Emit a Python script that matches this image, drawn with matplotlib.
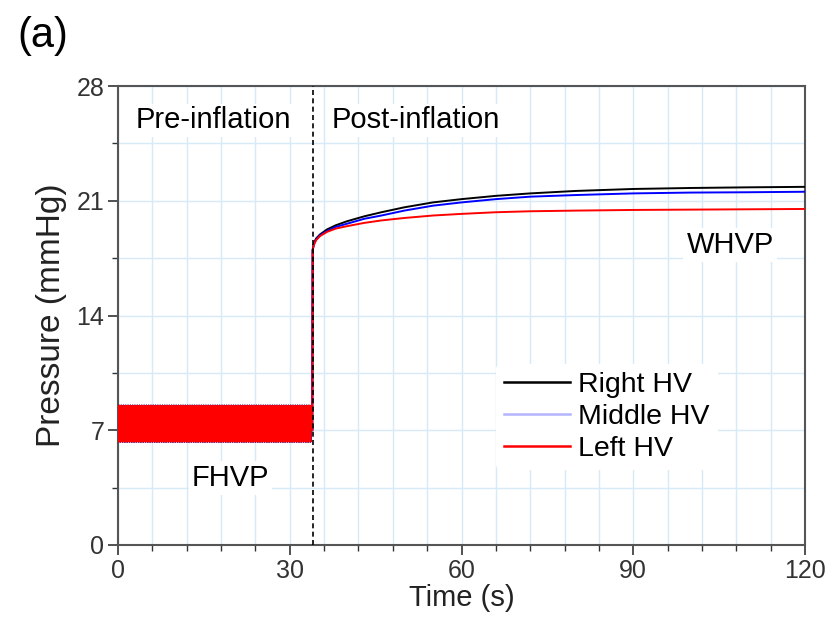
import numpy as np
import matplotlib
matplotlib.use("Agg")
import matplotlib.pyplot as plt
from matplotlib.ticker import MultipleLocator

plt.rcParams['font.family'] = ['Liberation Sans', 'DejaVu Sans']

# pre-inflation: one heartbeat (s, mmHg), repeated up to balloon inflation
beat_values = [6.3, 7.6, 8.5, 7.9, 7.0]
beat_dt = 0.08
inflation_time = 34.0

# post-inflation samples
post_time = [34.0, 34.2, 34.6, 35.3, 36.5, 38, 40, 43, 46, 50, 55, 60, 66, 72, 80, 90, 100, 110, 120]
right_hv = [18.0, 18.4, 18.7, 18.95, 19.25, 19.5, 19.75, 20.05, 20.3, 20.6, 20.9, 21.1,
            21.3, 21.45, 21.6, 21.72, 21.78, 21.82, 21.85]
middle_hv = [18.0, 18.35, 18.65, 18.9, 19.15, 19.4, 19.6, 19.9, 20.1, 20.4, 20.7, 20.9,
             21.1, 21.25, 21.35, 21.45, 21.5, 21.52, 21.55]
left_hv = [18.0, 18.3, 18.6, 18.85, 19.1, 19.3, 19.45, 19.65, 19.8, 19.95, 20.1, 20.2,
           20.3, 20.36, 20.4, 20.44, 20.46, 20.48, 20.5]

n_pre = int(round(inflation_time / beat_dt))
pre_t = np.arange(n_pre) * beat_dt
pre_p = np.tile(beat_values, n_pre // len(beat_values) + 1)[:n_pre]

fig = plt.figure(figsize=(8.33, 6.28), dpi=100)
ax = fig.add_axes([0.1417, 0.1322, 0.8247, 0.7308])

series = [("Right HV", right_hv, "black", "black"),
          ("Middle HV", middle_hv, "blue", "#b4b4ff"),
          ("Left HV", left_hv, "red", "red")]
for name, vals, col, legcol in series:
    t = np.concatenate([pre_t, post_time])
    p = np.concatenate([pre_p, vals])
    ax.plot(t, p, color=col, lw=1.4, zorder=3)
    ax.plot([], [], color=legcol, lw=1.8, label=name)

ax.axvline(inflation_time, color="black", ls=(0, (3, 2)), lw=1.2, zorder=4)

ax.set_xlim(0, 120)
ax.set_ylim(0, 28)
ax.xaxis.set_major_locator(MultipleLocator(30))
ax.xaxis.set_minor_locator(MultipleLocator(6))
ax.yaxis.set_major_locator(MultipleLocator(7))
ax.yaxis.set_minor_locator(MultipleLocator(3.5))
ax.grid(True, which="both", color="#d6eaf8", lw=1.0, zorder=0)
ax.tick_params(which="major", direction="out", length=7, width=1.2, labelsize=18,
               colors="#333333", pad=3)
ax.tick_params(which="minor", direction="out", length=4, width=1.0, colors="#333333")
for sp in ax.spines.values():
    sp.set_color("#555555")
    sp.set_linewidth(1.5)

ax.set_xlabel("Time (s)", fontsize=21, labelpad=1, color="#222222")
ax.set_ylabel("Pressure (mmHg)", fontsize=24, labelpad=7, color="#222222")

box = dict(facecolor="white", edgecolor="none", pad=2)
ax.text(16.6, 25.9, "Pre-inflation", fontsize=21, ha="center", va="center", bbox=box, zorder=5)
ax.text(52.1, 25.9, "Post-inflation", fontsize=21, ha="center", va="center", bbox=box, zorder=5)
ax.text(106.9, 18.3, "WHVP", fontsize=21, ha="center", va="center", bbox=box, zorder=5)
ax.text(19.6, 4.1, "FHVP", fontsize=21, ha="center", va="center", bbox=box, zorder=5)

leg = ax.legend(loc="upper left", bbox_to_anchor=(0.55, 0.395), frameon=True, fontsize=20.5,
                handlelength=2.3, handletextpad=0.3, labelspacing=0.2, borderpad=0.3,
                borderaxespad=0)
leg.get_frame().set_edgecolor("none")
leg.get_frame().set_facecolor("white")
leg.get_frame().set_alpha(1)
leg.set_zorder(5)

fig.text(0.051, 0.943, "(a)", fontsize=30, ha="center", va="center")

fig.savefig("out.png", dpi=100)
